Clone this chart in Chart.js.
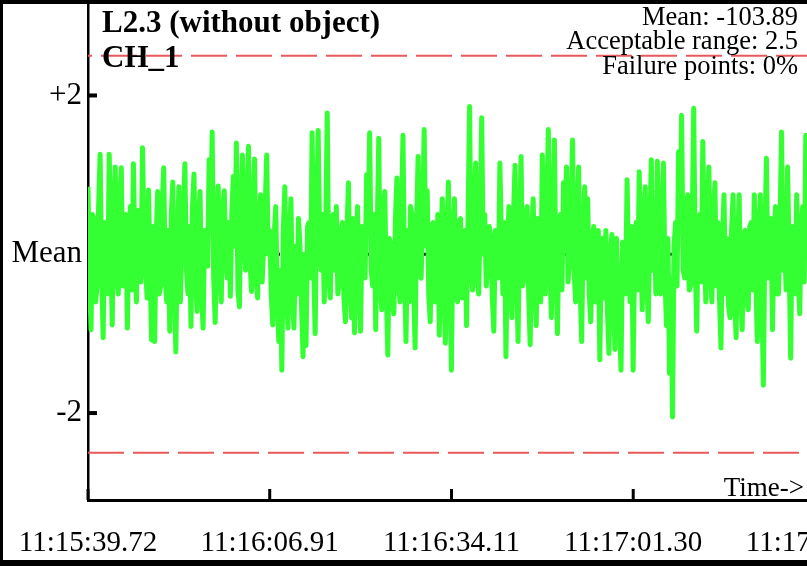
<!DOCTYPE html>
<html><head><meta charset="utf-8">
<script src="https://cdn.jsdelivr.net/npm/chart.js@4"></script>
<style>
html,body{margin:0;padding:0;background:#fff;overflow:hidden;width:807px;height:566px;}
#wrap{position:relative;width:807px;height:566px;overflow:hidden;background:#fff;}
canvas{position:absolute;left:0;top:0;}
#frame{position:absolute;left:0;top:0;width:1000px;height:566px;box-sizing:border-box;border-top:4px solid #000;border-left:3px solid #000;border-bottom:6px solid #000;pointer-events:none;}
</style></head>
<body><div id="wrap"><canvas id="c" width="900" height="566"></canvas><div id="frame"></div></div>
<script>
const titleLines = ["L2.3 (without object)", "CH_1"];
const infoLines = ["Mean: -103.89", "Acceptable range: 2.5", "Failure points: 0%"];
const xAxisNote = "Time->";
const tickLabels = ["11:15:39.72", "11:16:06.91", "11:16:34.11", "11:17:01.30", "11:17:28.49"];
const tickSeconds = [0, 27.19, 54.39, 81.58, 108.77];
const yTickValues = [-2, 0, 2];
const yTickLabels = ["-2", "Mean", "+2"];
const acceptableRange = 2.5;
const meanLevel = 0;
const sampleIntervalSec = 0.226585;
const deviation = [
 0.85,-0.3,-0.95,0.5,0.45,-0.6,-0.4,0.6,1.26,-0.2,-1.05,0.4,0.3,-0.5,1.26,0.2,-0.89,0.6,1.1,-0.3,
 -0.5,0.7,1.09,-0.4,-0.2,0.5,-0.93,0.1,0.6,-0.45,1.14,0.0,-0.6,0.55,0.4,-0.35,1.34,0.25,-0.11,-0.55,
 0.81,-0.2,-1.08,0.35,-1.1,0.2,0.79,-0.5,-0.4,0.6,1.09,-0.3,-0.6,0.3,-0.97,0.5,0.91,-0.4,-1.23,0.1,
 0.85,-0.6,0.2,0.55,1.14,-0.2,-0.5,0.35,-0.91,0.6,1.01,-0.25,-0.72,0.45,0.79,-0.5,-0.93,0.3,0.3,-0.15,
 1.19,0.4,1.54,-0.3,-0.86,0.5,0.86,-0.35,-0.6,0.6,0.8,-0.1,-0.3,0.4,-0.53,0.55,0.98,0.1,1.4,-0.45,
 -0.66,0.6,1.25,0.3,-0.2,0.65,1.36,-0.1,-0.47,0.5,1.2,-0.3,-0.55,0.45,0.75,-0.35,0.1,0.6,1.25,0.0,
 0.3,-0.5,-0.89,0.25,0.6,-0.6,-1.1,-0.2,-1.46,0.3,0.85,-0.4,-0.93,0.2,0.7,-0.55,-0.93,0.1,-0.5,0.45,
 0.1,-0.65,-1.29,0.0,-1.15,0.35,0.4,-0.3,1.53,-0.1,-1.0,0.5,1.56,0.2,-0.2,0.5,-0.6,0.35,1.78,-0.3,
 -0.55,0.4,0.5,-0.2,0.6,-0.5,-0.35,0.25,0.4,-0.55,-0.85,0.3,0.9,-0.4,-0.8,0.45,-0.99,0.15,0.6,-0.5,
 -0.97,0.35,0.3,-0.3,1.0,0.4,1.53,-0.2,-0.4,0.5,-0.95,0.3,1.46,-0.35,-0.7,0.55,0.79,-0.45,-1.27,0.2,
 0.1,-0.6,-0.75,0.45,0.96,-0.3,-0.6,0.5,1.5,-0.2,-1.1,0.3,-0.6,0.6,0.5,-0.35,-1.18,0.4,1.23,-0.25,
 -0.3,0.55,1.57,0.1,0.8,-0.5,-0.85,0.35,0.4,-0.6,-0.4,0.5,-1.02,0.2,0.7,-0.45,-1.12,0.3,0.91,-0.35,
 -1.46,0.25,0.7,-0.5,-0.6,0.4,0.45,-0.55,-0.3,0.3,-0.9,0.5,1.86,-0.2,-0.45,0.6,1.15,-0.3,-0.5,0.45,
 1.72,0.0,0.5,-0.4,-0.1,0.35,0.2,-0.55,-0.97,0.3,0.25,-0.3,1.15,0.2,-0.5,0.4,-1.29,0.1,0.6,-0.45,
 -0.8,0.5,1.12,-0.2,-1.1,0.35,1.23,-0.4,-0.3,0.55,0.6,-0.5,-1.14,0.25,0.7,-0.35,-0.9,0.45,0.4,-0.6,
 1.25,0.3,-0.5,0.6,1.57,-0.1,-0.8,0.5,1.44,-0.25,-1.0,0.3,0.5,-0.45,0.9,0.2,1.1,-0.35,-0.1,0.55,
 1.44,-0.2,-0.6,0.5,1.1,-0.4,-1.1,0.3,0.85,-0.3,0.7,-0.5,-0.85,0.2,0.35,-0.6,-0.6,0.3,-1.33,0.1,
 0.2,-0.55,0.3,-0.7,-1.25,0.0,0.25,-0.6,-1.2,0.2,-0.5,-0.9,-1.46,0.15,0.0,-0.5,0.94,-0.2,-0.6,0.35,
 -1.46,0.0,0.4,-0.45,1.04,0.1,-0.7,0.4,0.85,-0.35,-0.85,0.3,1.19,-0.2,0.4,-0.5,1.17,-0.1,-0.5,0.45,
 1.15,-0.3,-0.9,0.2,-1.5,-0.3,-2.05,0.1,0.4,-0.4,1.29,0.3,1.75,-0.2,-0.3,0.5,0.75,-0.45,-0.4,0.35,
 1.84,-0.1,-0.97,0.4,0.5,-0.35,1.42,0.2,-0.6,0.45,1.1,-0.3,-0.6,0.5,0.9,-0.4,0.4,-0.55,-1.18,0.2,
 0.75,-0.5,0.2,-0.65,-0.8,0.3,0.75,-0.6,-1.05,0.1,0.75,-0.5,-0.95,0.25,0.3,-0.6,-0.7,0.35,0.4,-0.45,
 0.75,-0.3,-1.1,0.3,0.75,-0.55,-1.65,0.2,1.21,-0.3,-0.3,0.45,-0.95,0.15,0.6,-0.5,-0.5,0.4,1.54,-0.2,
 0.2,-0.45,1.1,0.0,-1.31,0.35,0.1,-0.5,0.75,-0.3,-0.75,0.4,0.6,-0.35,1.5,0.2,1.04,-0.4,-0.3,0.3
];
const xMaxSec = 121.5;

const serif = 'Liberation Serif';

const decor = {
  id: 'decor',
  beforeDatasetsDraw(chart) {
    const {ctx, chartArea: a} = chart;
    const x = chart.scales.x, y = chart.scales.y;
    ctx.save();
    ctx.strokeStyle = '#000';
    ctx.lineWidth = 3;
    tickSeconds.forEach(s => {
      const px = x.getPixelForValue(s);
      ctx.beginPath(); ctx.moveTo(px, a.bottom); ctx.lineTo(px, a.bottom - 11); ctx.stroke();
    });
    ctx.lineWidth = 4;
    yTickValues.forEach(v => {
      const py = y.getPixelForValue(v);
      ctx.beginPath(); ctx.moveTo(a.left, py); ctx.lineTo(a.left + 9, py); ctx.stroke();
    });
    ctx.restore();
  },
  afterDraw(chart) {
    const ctx = chart.ctx;
    ctx.save();
    ctx.fillStyle = '#000';
    ctx.textBaseline = 'alphabetic';
    ctx.textAlign = 'left';
    ctx.font = 'bold 31px "' + serif + '"';
    ctx.fillText(titleLines[0], 102, 32);
    ctx.fillText(titleLines[1], 102, 67);
    ctx.textAlign = 'right';
    ctx.font = '26.5px "' + serif + '"';
    const ys = [25, 49, 74];
    infoLines.forEach((t, i) => ctx.fillText(t, 798, ys[i]));
    ctx.font = '27px "' + serif + '"';
    ctx.fillText(xAxisNote, 804, 496);
    ctx.restore();
  }
};

new Chart(document.getElementById('c'), {
  type: 'line',
  data: {
    datasets: [
      {
        data: deviation.map((v, i) => ({x: i * sampleIntervalSec, y: v})),
        borderColor: '#33ff33', borderWidth: 5, pointRadius: 0, tension: 0,
        borderJoinStyle: 'round', fill: false, order: 0
      },
      {
        data: [{x: 0, y: meanLevel}, {x: xMaxSec, y: meanLevel}],
        borderColor: '#000', borderWidth: 3, borderDash: [3, 4], pointRadius: 0, order: 2
      },
      {
        data: [{x: 0, y: acceptableRange}, {x: xMaxSec, y: acceptableRange}],
        borderColor: '#e8595b', borderWidth: 2, borderDash: [36, 9], borderDashOffset: 32, pointRadius: 0, order: 1
      },
      {
        data: [{x: 0, y: -acceptableRange}, {x: xMaxSec, y: -acceptableRange}],
        borderColor: '#e8595b', borderWidth: 2, borderDash: [36, 9], pointRadius: 0, order: 1
      }
    ]
  },
  options: {
    responsive: false, animation: false, devicePixelRatio: 1,
    layout: {padding: {top: 4, left: 0, right: 0, bottom: 0}},
    plugins: {legend: {display: false}, tooltip: {enabled: false}},
    scales: {
      x: {
        type: 'linear', min: 0, max: xMaxSec,
        afterBuildTicks: s => { s.ticks = tickSeconds.map(v => ({value: v})); },
        afterFit: s => { s.height = 66; s.paddingLeft = 0; s.paddingRight = 0; },
        grid: {display: false, drawTicks: false},
        border: {display: true, color: '#000', width: 3},
        ticks: {autoSkip: false, maxRotation: 0, padding: 26, color: '#000',
          font: {family: serif, size: 29},
          callback: (v, i) => tickLabels[i]}
      },
      y: {
        type: 'linear', min: -3.095, max: 3.152,
        afterBuildTicks: s => { s.ticks = yTickValues.map(v => ({value: v})); },
        afterFit: s => { s.width = 88; s.paddingTop = 0; s.paddingBottom = 0; },
        grid: {display: false, drawTicks: false},
        border: {display: true, color: '#000', width: 2.5},
        ticks: {padding: 6, color: '#000', font: {family: serif, size: 31},
          callback: v => yTickLabels[yTickValues.indexOf(v)]}
      }
    }
  },
  plugins: [decor]
});
</script>
</body></html>
